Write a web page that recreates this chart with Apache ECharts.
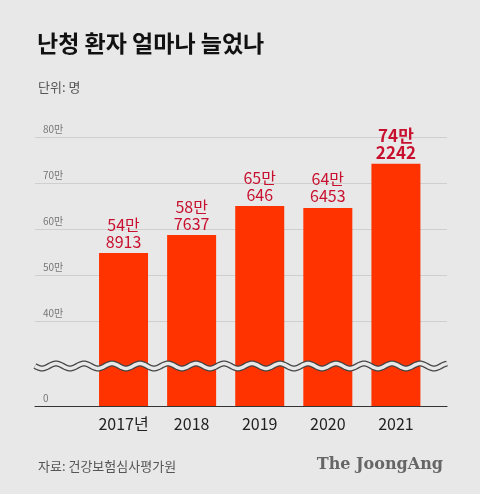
<!DOCTYPE html>
<html><head><meta charset="utf-8">
<script src="https://cdn.jsdelivr.net/npm/echarts@6/dist/echarts.min.js"></script>
<style>html,body{margin:0;background:#e8e8e8}#c{width:480px;height:494px}</style>
</head><body><div id="c"></div>
<script>
// ---------- data ----------
const years = ['2017년', '2018', '2019', '2020', '2021'];
const patients = [548913, 587637, 650646, 646453, 742242];
const tickValues = [400000, 500000, 600000, 700000, 800000];
// broken axis: the visual "0" sits at this real value
const AXIS_ZERO = 217400;

const chart = echarts.init(document.getElementById('c'));
const FONT = '"Noto Sans CJK KR", "Noto Sans", sans-serif';
const fmtMan = v => (v === AXIS_ZERO ? '0' : (v / 10000) + '만');
const labelText = v => Math.floor(v / 10000) + '만\n' + (v % 10000);

// wavy break line (decoration)
const wave = [];
for (let x = 35; x <= 447; x += 2) wave.push([x, 366 + 2.5 * Math.sin((x - 35) / 14 * Math.PI)]);

chart.setOption({
  backgroundColor: '#e8e8e8',
  textStyle: { fontFamily: FONT },
  title: [
    { text: '난청 환자 얼마나 늘었나', left: 32, top: 27, textStyle: { fontSize: 23, fontWeight: 'bold', color: '#111', fontFamily: FONT } },
    { text: '단위: 명', left: 33, top: 76, textStyle: { fontSize: 13, fontWeight: 'normal', color: '#555', fontFamily: FONT } },
    { text: '자료: 건강보험심사평가원', left: 33, top: 455, textStyle: { fontSize: 13, fontWeight: 'normal', color: '#555', fontFamily: FONT } },
    { text: 'The JoongAng', right: 32, top: 452, textStyle: { fontSize: 16, fontWeight: 'bold', color: '#666', fontFamily: '"DejaVu Serif", "Liberation Serif", serif' } }
  ],
  grid: { left: 35, right: 33, top: 137, bottom: 88 },
  xAxis: {
    type: 'value', min: -1.3, max: 4.75,
    splitLine: { show: false },
    axisLine: { show: true, onZero: false, lineStyle: { color: '#333', width: 1.2 } },
    axisTick: { show: true, customValues: [0, 1, 2, 3, 4], length: 5, inside: true, lineStyle: { color: '#333' } },
    axisLabel: { customValues: [0, 1, 2, 3, 4], formatter: v => years[Math.round(v)], fontSize: 16, color: '#222', margin: 10 }
  },
  yAxis: {
    type: 'value', min: AXIS_ZERO, max: 800000,
    axisLine: { show: false },
    axisTick: { show: false, customValues: [AXIS_ZERO].concat(tickValues) },
    splitLine: { show: true, lineStyle: { color: '#cfcfcf' } },
    axisLabel: {
      customValues: [AXIS_ZERO].concat(tickValues), formatter: fmtMan,
      inside: true, verticalAlign: 'bottom', padding: [0, 0, 3, 0], fontSize: 10, color: '#777'
    }
  },
  series: [{
    type: 'bar', barWidth: 49,
    data: patients.map((v, i) => i === patients.length - 1
      ? { value: [i, v], label: { fontWeight: 'bold', fontSize: 17 } } : [i, v]),
    itemStyle: { color: '#ff3300' },
    label: {
      show: true, position: 'top', distance: 3,
      formatter: p => labelText(p.value[1]),
      fontSize: 16, lineHeight: 17, color: '#c8102e'
    },
    emphasis: { disabled: true }
  }],
  graphic: [
    { type: 'polyline', shape: { points: wave }, style: { stroke: '#444', lineWidth: 6, fill: null }, z: 10 },
    { type: 'polyline', shape: { points: wave }, style: { stroke: '#e8e8e8', lineWidth: 3.5, fill: null }, z: 11 }
  ]
});
</script></body></html>
